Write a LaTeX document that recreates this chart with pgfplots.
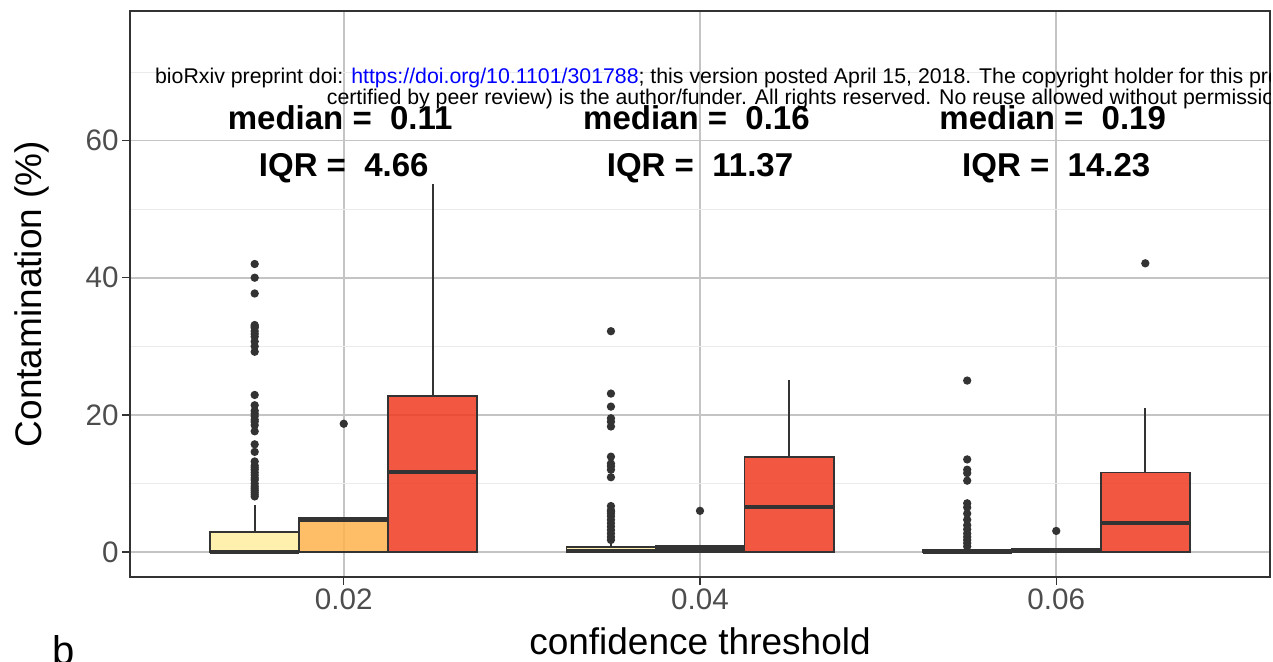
\documentclass[border=0pt]{standalone}
\usepackage{pgfplots}
\pgfplotsset{compat=1.18}
\usepgfplotslibrary{statistics}
\usepackage{fontspec}
\setmainfont{Liberation Sans}
\definecolor{cY}{HTML}{FFEDA0}
\definecolor{cO}{HTML}{FEB24C}
\definecolor{cR}{HTML}{F03B20}
\definecolor{frame}{HTML}{333333}
\definecolor{tickgray}{HTML}{4D4D4D}
\definecolor{gridmaj}{HTML}{C4C4C4}
\definecolor{gridmin}{HTML}{EBEBEB}
\begin{document}
\begin{tikzpicture}
\begin{axis}[
  at={(130pt,84pt)}, anchor=south west,
  scale only axis, width=1140pt, height=566pt,
  xmin=0.4, xmax=3.6, ymin=-3.65, ymax=78.9,
  xtick={1,2,3}, xticklabels={0.02,0.04,0.06},
  ytick={0,20,40,60}, minor ytick={10,30,50,70},
  /pgf/number format/assume math mode=true,
  grid=both,
  major grid style={gridmaj, line width=1.8pt},
  minor grid style={gridmin, line width=1pt},
  axis line style={frame, line width=1.6pt},
  tick style={frame, line width=1.4pt},
  tick align=outside, major tick length=8pt, minor tick length=0pt,
  tick pos=left,
  ticklabel style={font=\fontsize{29.6}{30}\selectfont, text=tickgray},
  xlabel={confidence threshold}, ylabel={Contamination (\%)},
  every axis x label/.style={at={(axis description cs:0.5,-0.1378)}, anchor=base, font=\fontsize{37}{40}\selectfont},
  every axis y label/.style={at={(axis description cs:-0.0772,0.5)}, anchor=base, rotate=90, font=\fontsize{37}{40}\selectfont},
  boxplot/draw direction=y,
  boxplot/whisker extend=0,
  boxplot/box extend=0.25,
  boxplot/every box/.style={draw=frame, line width=1.8pt},
  boxplot/every whisker/.style={draw=frame, line width=1.8pt},
  boxplot/every median/.style={draw=frame, line width=4pt},
  every axis plot/.append style={draw=frame, line width=1.8pt, fill opacity=0.85, mark=*, mark size=3.2pt,
     mark options={draw=none, fill=frame, fill opacity=1}},
]
% 0.02
\addplot[fill=cY, boxplot prepared={lower whisker=0, lower quartile=0, median=0.05, upper quartile=2.96, upper whisker=6.9, draw position=0.75}]
 coordinates {(0,42.0)(0,40.0)(0,37.7)(0,33.1)(0,32.9)(0,32.7)(0,32.2)(0,31.8)(0,31.4)(0,30.7)(0,30.0)(0,29.2)(0,22.9)(0,21.4)(0,20.6)(0,20.2)(0,19.8)(0,19.3)(0,19.0)(0,18.5)(0,17.6)(0,15.7)(0,14.6)(0,13.2)(0,12.6)(0,12.3)(0,12.0)(0,11.6)(0,11.2)(0,10.8)(0,10.5)(0,10.0)(0,9.6)(0,9.3)(0,9.0)(0,8.7)(0,8.4)(0,8.1)};
\addplot[fill=cO, boxplot prepared={lower whisker=0, lower quartile=0, median=4.65, upper quartile=4.95, upper whisker=4.95, draw position=1.0}]
 coordinates {(0,18.7)};
\addplot[fill=cR, boxplot prepared={lower whisker=0, lower quartile=0, median=11.6, upper quartile=22.8, upper whisker=53.7, draw position=1.25}]
 coordinates {};
% 0.04
\addplot[fill=cY, boxplot prepared={lower whisker=0, lower quartile=0, median=0.1, upper quartile=0.7, upper whisker=1.2, draw position=1.75}]
 coordinates {(0,32.2)(0,23.1)(0,21.2)(0,19.5)(0,19.0)(0,18.3)(0,13.9)(0,12.9)(0,12.5)(0,12.0)(0,10.9)(0,6.7)(0,6.1)(0,5.9)(0,5.6)(0,5.2)(0,4.7)(0,4.2)(0,3.7)(0,3.2)(0,2.7)(0,2.2)(0,1.75)};
\addplot[fill=cO, boxplot prepared={lower whisker=0, lower quartile=0, median=0.4, upper quartile=0.9, upper whisker=0.9, draw position=2.0}]
 coordinates {(0,6.0)};
\addplot[fill=cR, boxplot prepared={lower whisker=0, lower quartile=0, median=6.5, upper quartile=13.8, upper whisker=25.1, draw position=2.25}]
 coordinates {};
% 0.06
\addplot[fill=cY, boxplot prepared={lower whisker=0, lower quartile=0, median=0.05, upper quartile=0.3, upper whisker=0.5, draw position=2.75}]
 coordinates {(0,25.0)(0,13.5)(0,12.0)(0,11.5)(0,10.4)(0,7.1)(0,6.5)(0,5.6)(0,4.7)(0,3.9)(0,3.3)(0,2.7)(0,2.2)(0,1.75)(0,1.3)(0,0.8)};
\addplot[fill=cO, boxplot prepared={lower whisker=0, lower quartile=0, median=0.2, upper quartile=0.5, upper whisker=0.5, draw position=3.0}]
 coordinates {(0,3.07)};
\addplot[fill=cR, boxplot prepared={lower whisker=0, lower quartile=0, median=4.2, upper quartile=11.6, upper whisker=21.0, draw position=3.25}]
 coordinates {(0,42.1)};
% watermark
\node[anchor=base west, inner sep=0pt, font=\fontsize{21.3}{21}\selectfont] at (axis cs:0.470,68.3)
 {bioRxiv preprint doi: \textcolor{blue}{https://doi.org/10.1101/301788}; this version posted April 15, 2018. The copyright holder for this preprint (which was not};
\node[anchor=base west, inner sep=0pt, font=\fontsize{21.3}{21}\selectfont] at (axis cs:0.952,65.2)
 {certified by peer review) is the author/funder. All rights reserved. No reuse allowed without permission.};
% annotations
\node[anchor=base, font=\bfseries\fontsize{33}{36}\selectfont] at (axis cs:0.99,61.6) {median = \ 0.11};
\node[anchor=base, font=\bfseries\fontsize{33}{36}\selectfont] at (axis cs:1,54.7) {IQR = \ 4.66};
\node[anchor=base, font=\bfseries\fontsize{33}{36}\selectfont] at (axis cs:1.99,61.6) {median = \ 0.16};
\node[anchor=base, font=\bfseries\fontsize{33}{36}\selectfont] at (axis cs:2,54.7) {IQR = \ 11.37};
\node[anchor=base, font=\bfseries\fontsize{33}{36}\selectfont] at (axis cs:2.99,61.6) {median = \ 0.19};
\node[anchor=base, font=\bfseries\fontsize{33}{36}\selectfont] at (axis cs:3,54.7) {IQR = \ 14.23};
\end{axis}
\node[anchor=base west, inner sep=0pt, font=\fontsize{40}{40}\selectfont] at (52pt,-3pt) {b};
\pgfresetboundingbox
\path[use as bounding box] (0,0) rectangle (1273pt,661pt);
\end{tikzpicture}
\end{document}
